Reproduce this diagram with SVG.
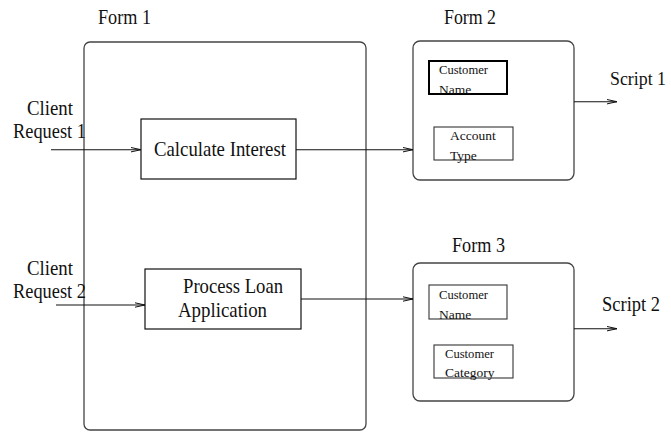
<svg xmlns="http://www.w3.org/2000/svg" width="671" height="432" viewBox="0 0 671 432">
  <style>
    .form { fill: none; stroke: #444; stroke-width: 1.3; }
    .box { fill: #fff; stroke: #111; stroke-width: 1.2; }
    .field { fill: none; stroke: #333; stroke-width: 1.1; }
    .field-bold { fill: none; stroke: #000; stroke-width: 2; }
    .lbl { font-family: "Liberation Serif", "Times New Roman", serif; font-size: 21px; fill: #111; }
    .edge { font-size: 19px; }
    .sm { font-family: "Liberation Serif", "Times New Roman", serif; font-size: 13.5px; fill: #111; }
    .wire { fill: none; stroke: #111; stroke-width: 1.1; marker-end: url(#arr); }
  </style>
  <defs>
    <marker id="arr" viewBox="0 0 10 6" refX="10" refY="3" markerWidth="10" markerHeight="6" markerUnits="userSpaceOnUse" orient="auto">
      <path d="M0,0.8 L10,3 L0,5.2" fill="none" stroke="#111" stroke-width="1"/>
    </marker>
  </defs>

  <g id="form1">
    <rect class="form" x="84" y="42" width="282" height="388" rx="6"/>
    <text class="lbl" x="98" y="24" textLength="53" lengthAdjust="spacingAndGlyphs">Form 1</text>
  </g>

  <g id="calc">
    <rect class="box" x="141" y="119" width="155" height="60"/>
    <text class="lbl" x="154" y="156" textLength="132" lengthAdjust="spacingAndGlyphs">Calculate Interest</text>
  </g>

  <g id="loan">
    <rect class="box" x="145" y="269" width="156" height="60"/>
    <text class="lbl" x="183" y="293" textLength="100" lengthAdjust="spacingAndGlyphs">Process Loan</text>
    <text class="lbl" x="178" y="317" textLength="89" lengthAdjust="spacingAndGlyphs">Application</text>
  </g>

  <g id="client1">
    <text class="lbl" x="27" y="115" textLength="46" lengthAdjust="spacingAndGlyphs">Client</text>
    <text class="lbl" x="13" y="138" textLength="73" lengthAdjust="spacingAndGlyphs">Request 1</text>
  </g>

  <g id="client2">
    <text class="lbl" x="27" y="275" textLength="46" lengthAdjust="spacingAndGlyphs">Client</text>
    <text class="lbl" x="13" y="298" textLength="73" lengthAdjust="spacingAndGlyphs">Request 2</text>
  </g>

  <g id="form2">
    <rect class="form" x="413" y="41" width="161" height="139" rx="7"/>
    <text class="lbl" x="444" y="24" textLength="52" lengthAdjust="spacingAndGlyphs">Form 2</text>
    <rect class="field-bold" x="429" y="61" width="78" height="33"/>
    <text class="sm" x="439" y="74" textLength="49" lengthAdjust="spacingAndGlyphs">Customer</text>
    <text class="sm" x="439" y="94">Name</text>
    <rect class="field" x="434" y="127" width="79" height="33"/>
    <text class="sm" x="450" y="140">Account</text>
    <text class="sm" x="450" y="160">Type</text>
  </g>

  <g id="form3">
    <rect class="form" x="413" y="263" width="161" height="138" rx="7"/>
    <text class="lbl" x="452" y="252" textLength="53" lengthAdjust="spacingAndGlyphs">Form 3</text>
    <rect class="field" x="429" y="285" width="78" height="34"/>
    <text class="sm" x="439" y="299" textLength="49" lengthAdjust="spacingAndGlyphs">Customer</text>
    <text class="sm" x="439" y="319">Name</text>
    <rect class="field" x="434" y="345" width="79" height="33"/>
    <text class="sm" x="445" y="358" textLength="49" lengthAdjust="spacingAndGlyphs">Customer</text>
    <text class="sm" x="445" y="377">Category</text>
  </g>

  <g id="script1">
    <text class="lbl edge" x="610" y="85" textLength="56" lengthAdjust="spacingAndGlyphs">Script 1</text>
  </g>

  <g id="script2">
    <text class="lbl" x="602" y="311" textLength="58" lengthAdjust="spacingAndGlyphs">Script 2</text>
  </g>

  <g id="connectors">
    <path class="wire" d="M51,149.7 H141"/>
    <path class="wire" d="M56,305 H145"/>
    <path class="wire" d="M296,149.7 H413"/>
    <path class="wire" d="M301,299 H413"/>
    <path class="wire" d="M574,101.7 H617"/>
    <path class="wire" d="M574,328.7 H617"/>
  </g>
</svg>
